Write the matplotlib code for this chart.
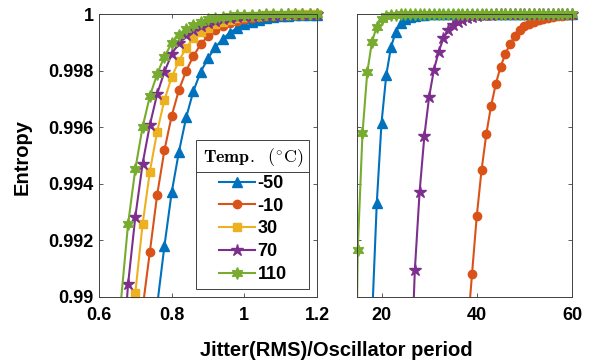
import numpy as np
import matplotlib
matplotlib.use('Agg')
import matplotlib.pyplot as plt
from matplotlib.lines import Line2D

plt.rcParams['font.family'] = ['Liberation Sans', 'DejaVu Sans']
plt.rcParams['font.weight'] = 'bold'
plt.rcParams['mathtext.fontset'] = 'cm'

nan = np.nan

# ---- data ----
temps = ['-50', '-10', '30', '70', '110']
colors = ['#0072BD', '#D95319', '#EDB120', '#7E2F8E', '#77AC30']
markers = ['^', 'o', 's', '*', (6, 1, 0)]
msizes = [6.5, 6, 5.5, 9, 8.5]

# left panel: jitter ratio 0.60 .. 1.20, step 0.02
left_x = np.round(np.arange(0.60, 1.2001, 0.02), 2)
left_blue = [nan] * 8 + [0.9897, 0.9918, 0.9937, 0.99514, 0.99636, 0.9973, 0.99797, 0.99845,
                         0.99884, 0.99912, 0.99936, 0.99952, 0.99965, 0.99975, 0.99982, 0.99987,
                         0.99991, 0.99994, 0.99996, 0.99997, 0.99998, 0.99999, 0.99999]
left_orange = [nan] * 6 + [0.9896, 0.9916, 0.99361, 0.99519, 0.99641, 0.99733, 0.99801, 0.99853,
                           0.99895, 0.99924, 0.99944, 0.99959, 0.9997, 0.99978, 0.99984, 0.99989,
                           0.99992, 0.99995, 0.99996, 0.99997, 0.99998, 0.99999, 0.99999, 1.0, 1.0]
left_yellow = [nan] * 4 + [0.9875, 0.99015, 0.99258, 0.99444, 0.99585, 0.99697, 0.99778, 0.99836,
                           0.99882, 0.99916, 0.99937, 0.99952, 0.99965, 0.99975, 0.99982, 0.99987,
                           0.99991, 0.99994, 0.99996, 0.99997, 0.99998, 0.99999, 0.99999,
                           1.0, 1.0, 1.0, 1.0]
left_purple = [nan] * 3 + [0.987, 0.99045, 0.99284, 0.99472, 0.99609, 0.99718, 0.99797, 0.99859,
                           0.999, 0.99927, 0.99945, 0.99959, 0.9997, 0.99978, 0.99984, 0.99989,
                           0.99992, 0.99994, 0.99996, 0.99997, 0.99998, 0.99999, 0.99999,
                           1.0, 1.0, 1.0, 1.0, 1.0]
left_green = [nan] * 3 + [0.9898, 0.99258, 0.99453, 0.99602, 0.99711, 0.99789, 0.99851, 0.99898,
                          0.99927, 0.99949, 0.99964, 0.99975, 0.99983, 0.99988, 0.99992, 0.99995,
                          0.99997, 0.99998, 0.99999, 0.99999] + [1.0] * 8

# right panel: 14 .. 60 (no 30 degC curve visible here)
right_x = np.arange(14, 61)
right_blue = [nan] * 4 + [0.98917, 0.99332, 0.99617, 0.99786, 0.99886, 0.99939, 0.99969, 0.99984,
                          0.99992, 0.99996, 0.99998, 0.99999] + [1.0] * 31
right_orange = [nan] * 24 + [0.9887, 0.9908, 0.99286, 0.99448, 0.99576, 0.99676, 0.99754, 0.99815,
                             0.9986, 0.99896, 0.99924, 0.99945, 0.99958, 0.99967, 0.99974, 0.9998,
                             0.99985, 0.99989, 0.99992, 0.99994, 0.99996, 0.99997, 0.99998]
right_purple = [nan] * 12 + [0.9865, 0.99096, 0.99373, 0.9957, 0.99709, 0.99804, 0.99868, 0.99916,
                             0.99945, 0.99963, 0.99974, 0.99982, 0.99988, 0.99992, 0.99995, 0.99997,
                             0.99998, 0.99999] + [1.0] * 17
right_green = [0.978, 0.99166, 0.99579, 0.99795, 0.99904, 0.99957, 0.99983, 0.99995,
               0.99998, 0.99999] + [1.0] * 37

yticks = [0.99, 0.992, 0.994, 0.996, 0.998, 1.0]
ytick_labels = ['0.99', '0.992', '0.994', '0.996', '0.998', '1']


def draw_series(ax, x, y, i):
    x = np.asarray(x, float)
    y = np.asarray(y, float)
    ax.plot(x, y, color=colors[i], lw=1.5)
    x0, x1 = ax.get_xlim()
    y0, y1 = ax.get_ylim()
    vis = (y >= y0) & (x >= x0) & (x <= x1)
    ax.plot(x[vis], y[vis], ls='none', marker=markers[i], color=colors[i],
            ms=msizes[i], clip_on=False)


def style_axes(ax):
    ax.set_ylim(0.99, 1.0)
    ax.set_yticks(yticks)
    ax.set_yticklabels(ytick_labels)
    ax.tick_params(direction='in', top=True, right=True, length=3, width=0.6,
                   color='#404040', labelsize=13, labelcolor='black')
    ax.tick_params(axis='x', pad=7)
    ax.tick_params(axis='y', pad=4)
    for s in ax.spines.values():
        s.set_color('#404040')
        s.set_linewidth(0.7)


fig = plt.figure(figsize=(5.96, 3.62), dpi=100)
ax1 = fig.add_axes([0.1661, 0.1796, 0.3658, 0.7804])
ax2 = fig.add_axes([0.599, 0.1796, 0.3607, 0.7804])

ax1.set_xlim(0.6, 1.2)
ax1.set_xticks([0.6, 0.8, 1.0, 1.2])
ax1.set_xticklabels(['0.6', '0.8', '1', '1.2'])
style_axes(ax1)

ax2.set_xlim(14.85, 60)
ax2.set_xticks([20, 40, 60])
style_axes(ax2)
ax2.tick_params(labelleft=False)

for i, y in enumerate([left_blue, left_orange, left_yellow, left_purple, left_green]):
    draw_series(ax1, left_x, y, i)

for i, y in [(0, right_blue), (1, right_orange), (3, right_purple), (4, right_green)]:
    draw_series(ax2, right_x, y, i)

handles = [Line2D([], [], color=colors[i], marker=markers[i], ms=msizes[i], lw=1.5)
           for i in range(5)]
leg = ax1.legend(handles, temps, title=r'$\mathbf{Temp.}\ \ (^{\circ}\mathrm{C})$',
                 loc='lower right', bbox_to_anchor=(0.9647, 0.0273), borderaxespad=0,
                 fancybox=False, edgecolor='#404040', framealpha=1,
                 prop={'weight': 'bold', 'size': 13}, title_fontsize=13,
                 handlelength=2.0, labelspacing=0.32, handletextpad=0.15, borderpad=0.35)
leg.get_frame().set_linewidth(0.7)

fig.text(0.564, 0.033, 'Jitter(RMS)/Oscillator period', ha='center', va='center',
         fontsize=14.5, fontweight='bold')
fig.text(0.037, 0.566, 'Entropy', ha='center', va='center', rotation=90,
         fontsize=14.5, fontweight='bold')

# separator line under the legend title
fig.canvas.draw()
bb = leg.get_window_extent()
tb = leg.get_title().get_window_extent()
inv = fig.transFigure.inverted()
(lx0, ly), (lx1, _) = inv.transform([(bb.x0, tb.y0 - 3), (bb.x1, tb.y0 - 3)])
fig.add_artist(Line2D([lx0, lx1], [ly, ly], color='#404040', lw=0.7,
                      transform=fig.transFigure))

fig.savefig('out.png', dpi=100)
